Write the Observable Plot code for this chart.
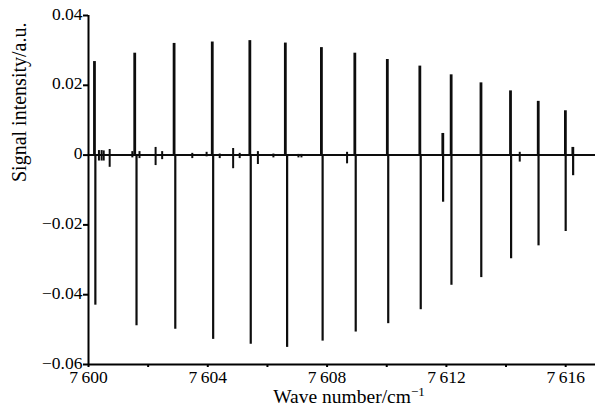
<!DOCTYPE html>
<html><head><meta charset="utf-8">
<script src="https://cdn.jsdelivr.net/npm/d3@7"></script>
<script src="https://cdn.jsdelivr.net/npm/@observablehq/plot@0.6"></script>
<style>
body{margin:0;background:#fff;}
#chart svg{display:block;}
</style></head><body><div id="chart"></div>
<script>
// Main absorption lines: positive lobe position/height, negative lobe position/depth
const peakPosUp = [7600.20, 7601.55, 7602.87, 7604.15, 7605.41, 7606.60, 7607.81, 7608.93, 7610.02, 7611.11, 7611.88, 7612.16, 7613.16, 7614.15, 7615.08, 7615.99, 7616.24];
const peakUp    = [0.0268, 0.0292, 0.0320, 0.0324, 0.0328, 0.0321, 0.0308, 0.0292, 0.0274, 0.0255, 0.0062, 0.0230, 0.0207, 0.0184, 0.0154, 0.0127, 0.0022];
const peakPosDown = [7600.23, 7601.61, 7602.91, 7604.18, 7605.44, 7606.66, 7607.85, 7608.96, 7610.05, 7611.14, 7611.89, 7612.17, 7613.17, 7614.17, 7615.09, 7616.00, 7616.25];
const peakDown    = [-0.0430, -0.0489, -0.0499, -0.0528, -0.0542, -0.0551, -0.0533, -0.0507, -0.0483, -0.0443, -0.0135, -0.0373, -0.0351, -0.0297, -0.0260, -0.0219, -0.0059];
// Weak features near the baseline
const bumpPos  = [7600.35, 7600.44, 7600.51, 7600.71, 7601.47, 7601.71, 7602.25, 7602.47, 7603.48, 7603.96, 7604.40, 7604.85, 7605.07, 7605.68, 7606.20, 7607.04, 7607.14, 7608.67, 7614.46];
const bumpUp   = [0.0013, 0.0013, 0.0012, 0.0016, 0.0010, 0.0010, 0.0022, 0.0010, 0.0005, 0.0008, 0.0003, 0.0019, 0.0005, 0.0010, 0.0003, 0.0002, 0.0002, 0.0008, 0.0008];
const bumpDown = [-0.0017, -0.0017, -0.0017, -0.0035, -0.0008, -0.0010, -0.0030, -0.0013, -0.0010, -0.0005, -0.0010, -0.0039, -0.0010, -0.0027, -0.0008, -0.0008, -0.0008, -0.0025, -0.0020];

const xDomain = [7600, 7617];
const yDomain = [-0.06, 0.04];
const yTicks = [-0.06, -0.04, -0.02, 0, 0.02, 0.04];
const yTickLabels = ["\u22120.06", "\u22120.04", "\u22120.02", "0", "0.02", "0.04"];
const xMajorTicks = [7600, 7604, 7608, 7612, 7616];
const xMajorLabels = ["7\u2009600", "7\u2009604", "7\u2009608", "7\u2009612", "7\u2009616"];
const xMinorTicks = [7602, 7606, 7610, 7614];
const xLabel = "Wave number/cm";
const xLabelSup = "\u22121";
const yLabel = "Signal intensity/a.u.";

const upData = peakPosUp.map((x, i) => ({x, y: peakUp[i]}));
const downData = peakPosDown.map((x, i) => ({x, y: peakDown[i]}));
const bumps = bumpPos.map((x, i) => ({x, hi: bumpUp[i], lo: bumpDown[i]}));

const ink = "#0d0d0d";
const plot = Plot.plot({
  width: 595, height: 408,
  marginLeft: 88, marginRight: 0, marginTop: 15, marginBottom: 44,
  x: {domain: xDomain},
  y: {domain: yDomain},
  style: {fontFamily: "'Liberation Serif', 'Times New Roman', serif", fontSize: "18px", color: "#000", background: "#fff"},
  marks: [
    Plot.ruleY([0], {x1: xDomain[0], x2: xDomain[1], stroke: ink, strokeWidth: 2}),
    Plot.ruleX(bumps, {x: "x", y1: "lo", y2: "hi", stroke: ink, strokeWidth: 2}),
    Plot.ruleX(upData, {x: "x", y1: 0, y2: "y", stroke: ink, strokeWidth: 2.8}),
    Plot.ruleX(downData, {x: "x", y1: 0, y2: "y", stroke: ink, strokeWidth: 2.2}),
    Plot.ruleX([xDomain[0]], {stroke: "#000", strokeWidth: 2}),
    Plot.ruleY([yDomain[0]], {stroke: "#000", strokeWidth: 2}),
    Plot.axisY(yTicks, {tickFormat: () => "", tickSize: 5, strokeWidth: 2, label: null}),
    Plot.axisY(yTicks, {tickFormat: d => yTickLabels[yTicks.indexOf(d)], tickSize: 0, tickPadding: 6, label: null, fontSize: 17.5, dy: -1.5}),
    Plot.axisX(xMajorTicks, {tickFormat: d => xMajorLabels[xMajorTicks.indexOf(d)], tickSize: 3, tickPadding: 3, strokeWidth: 2, label: null, fontSize: 17.5}),
    Plot.axisX(xMinorTicks, {tickFormat: () => "", tickSize: 3, strokeWidth: 2, label: null}),
    Plot.text([xLabel], {frameAnchor: "bottom", dx: 7, dy: 38, fontSize: 19.5, fill: "#000"}),
    Plot.text([yLabel], {frameAnchor: "left", dx: -69, dy: -8, rotate: -90, fontSize: 20, fill: "#000"})
  ]
});
document.getElementById("chart").appendChild(plot);
d3.select(plot).selectAll("text").filter(function() { return this.textContent === xLabel; })
  .append("tspan").attr("dy", "-0.5em").attr("font-size", "13px").text(xLabelSup);
</script>
</body></html>
